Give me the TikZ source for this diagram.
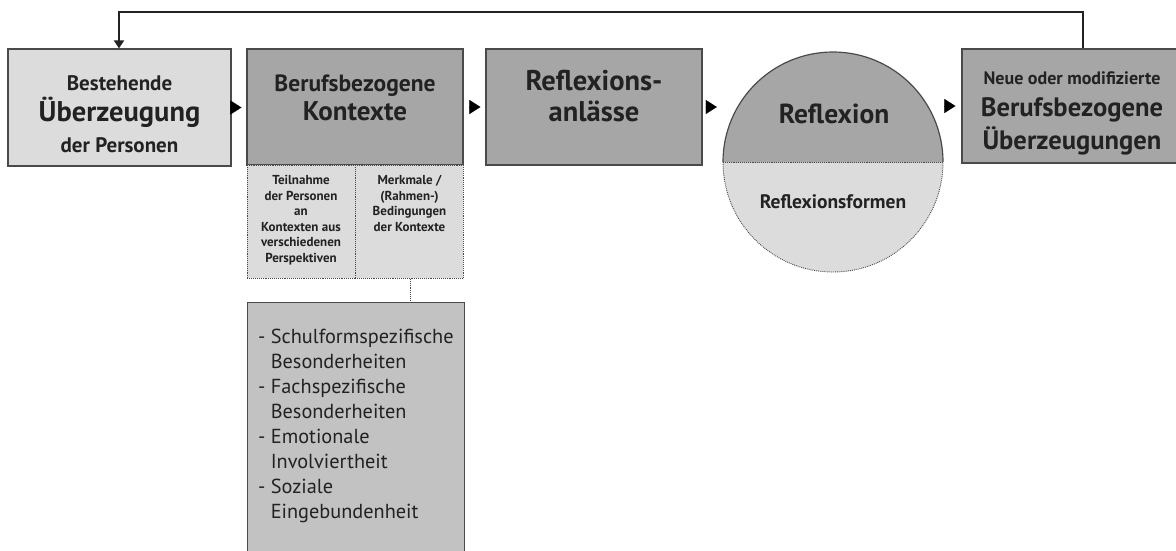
\documentclass[tikz,border=0pt]{standalone}
\usepackage{fontspec}
\setmainfont{PT Sans}
\usetikzlibrary{arrows.meta}
\definecolor{light}{HTML}{DCDCDC}
\definecolor{dark}{HTML}{A6A6A6}
\definecolor{mid}{HTML}{C2C2C2}
\definecolor{edge}{HTML}{4A4A4A}
\definecolor{ink}{HTML}{222222}
\tikzset{
  mainbox/.style={draw=edge, line width=1.2pt, minimum width=#1, minimum height=116pt, inner sep=0pt},
  boxtext/.style={align=center, inner sep=0pt, text=ink, font=\bfseries\fontsize{20}{#1}\selectfont},
  subbox/.style={draw=edge, densely dotted, line width=0.9pt, fill=light, minimum width=108pt, minimum height=113pt, inner sep=0pt, anchor=north west},
  subtext/.style={anchor=north, align=center, inner sep=0pt, text=ink, font=\bfseries\fontsize{13}{15.6}\selectfont},
  flow/.style={-{Triangle[length=11pt,width=14pt]}, draw=black, fill=black, line width=0.1pt},
}
\begin{document}
\begin{tikzpicture}[x=1pt,y=-1pt]
\useasboundingbox (0,0) rectangle (1176,550);
% box 1
\node[mainbox=223pt, fill=light, minimum height=117pt] (b1) at (119.5,107.5) {};
\node[boxtext=31] (b1t) at (119.5,114)
  {{\fontsize{21}{25}\selectfont Bestehende}\\{\fontsize{28.5}{31}\selectfont Überzeugung}\\{\fontsize{21}{25}\selectfont der Personen}};
% box 2
\node[mainbox=216pt, fill=dark] (b2) at (355,107) {};
\node[boxtext=29] (b2t) at (355,98)
  {{\fontsize{23.5}{27}\selectfont Berufsbezogene}\\{\fontsize{27}{30}\selectfont Kontexte}};
\node[subbox] (s1) at (247,165) {};
\node[subbox] (s2) at (355,165) {};
\node[subtext] (s1t) at (301,175) {Teilnahme\\der Personen\\an\\Kontexten aus\\verschiedenen\\Perspektiven};
\node[subtext] (s2t) at (409.5,175) {Merkmale /\\(Rahmen-)\\Bedingungen\\der Kontexte};
\node[draw=edge, line width=1.2pt, fill=mid, minimum width=217pt, minimum height=260pt, anchor=north west, inner sep=0pt] (list) at (247,302) {};
\node[anchor=north west, align=left, font=\fontsize{20.3}{25}\selectfont, text=ink, inner sep=0pt] (listtext) at (258,329)
  {- Schulformspezifische\\\hspace*{0.62em}Besonderheiten\\- Fachspezifische\\\hspace*{0.62em}Besonderheiten\\- Emotionale\\\hspace*{0.62em}Involviertheit\\- Soziale\\\hspace*{0.62em}Eingebundenheit};
\draw[edge, densely dotted, line width=0.9pt] (s2.south) ++(1,0) coordinate (sd) -- (sd |- list.north);
% box 3
\node[mainbox=216pt, fill=dark] (b3) at (594,107) {};
\node[boxtext=31] (b3t) at (594,96)
  {{\fontsize{28.5}{31}\selectfont Reflexions-}\\{\fontsize{28.5}{31}\selectfont anlässe}};
% circle
\coordinate (cc) at (833,162);
\fill[light] (723,162) arc[start angle=180, end angle=360, radius=110pt] -- cycle;
\draw[edge, densely dotted, line width=0.9pt] (723,162) arc[start angle=180, end angle=360, radius=110pt] -- cycle;
\filldraw[fill=dark, draw=edge, line width=1.2pt] (723,162) arc[start angle=180, end angle=0, radius=110pt];
\draw[edge, densely dotted, line width=0.9pt] (723,162) -- (943,162);
\node[circle, minimum size=220pt, inner sep=0pt] (ref) at (cc) {};
\node[font=\bfseries\fontsize{27.5}{30}\selectfont, text=ink, inner sep=0pt] (reft) at (834,114) {Reflexion};
\node[font=\bfseries\fontsize{19.5}{22}\selectfont, text=ink, inner sep=0pt] (reff) at (833,202) {Reflexionsformen};
% box 5
\node[mainbox=224pt, fill=dark, minimum height=114pt] (b5) at (1074,106) {};
\node[boxtext=32.5] (b5t) at (1072,113)
  {{\fontsize{18}{22}\selectfont Neue oder modifizierte}\\{\fontsize{26.6}{30}\selectfont Berufsbezogene}\\{\fontsize{26.6}{30}\selectfont Überzeugungen}};
% flow arrows
\draw[flow, shorten <=1pt, shorten >=5pt] (b1.east) -- (b2.west |- b1.east);
\draw[flow, shorten <=6pt, shorten >=5pt] (b2.east) -- (b3.west);
\draw[flow, shorten <=3pt, shorten >=6pt] (b3.east) -- (ref.west |- b3.east);
\draw[flow, shorten <=1pt, shorten >=6pt] (ref.east |- b5.west) -- (b5.west);
% feedback
\coordinate (fbr) at (1083,12);
\coordinate (fbl) at (119,12);
\draw[line width=2.4pt, ink, -{Triangle[length=8pt,width=10pt]}] (b5.north -| fbr) -- (fbr) -- (fbl) -- (b1.north -| fbl);
\end{tikzpicture}
\end{document}
